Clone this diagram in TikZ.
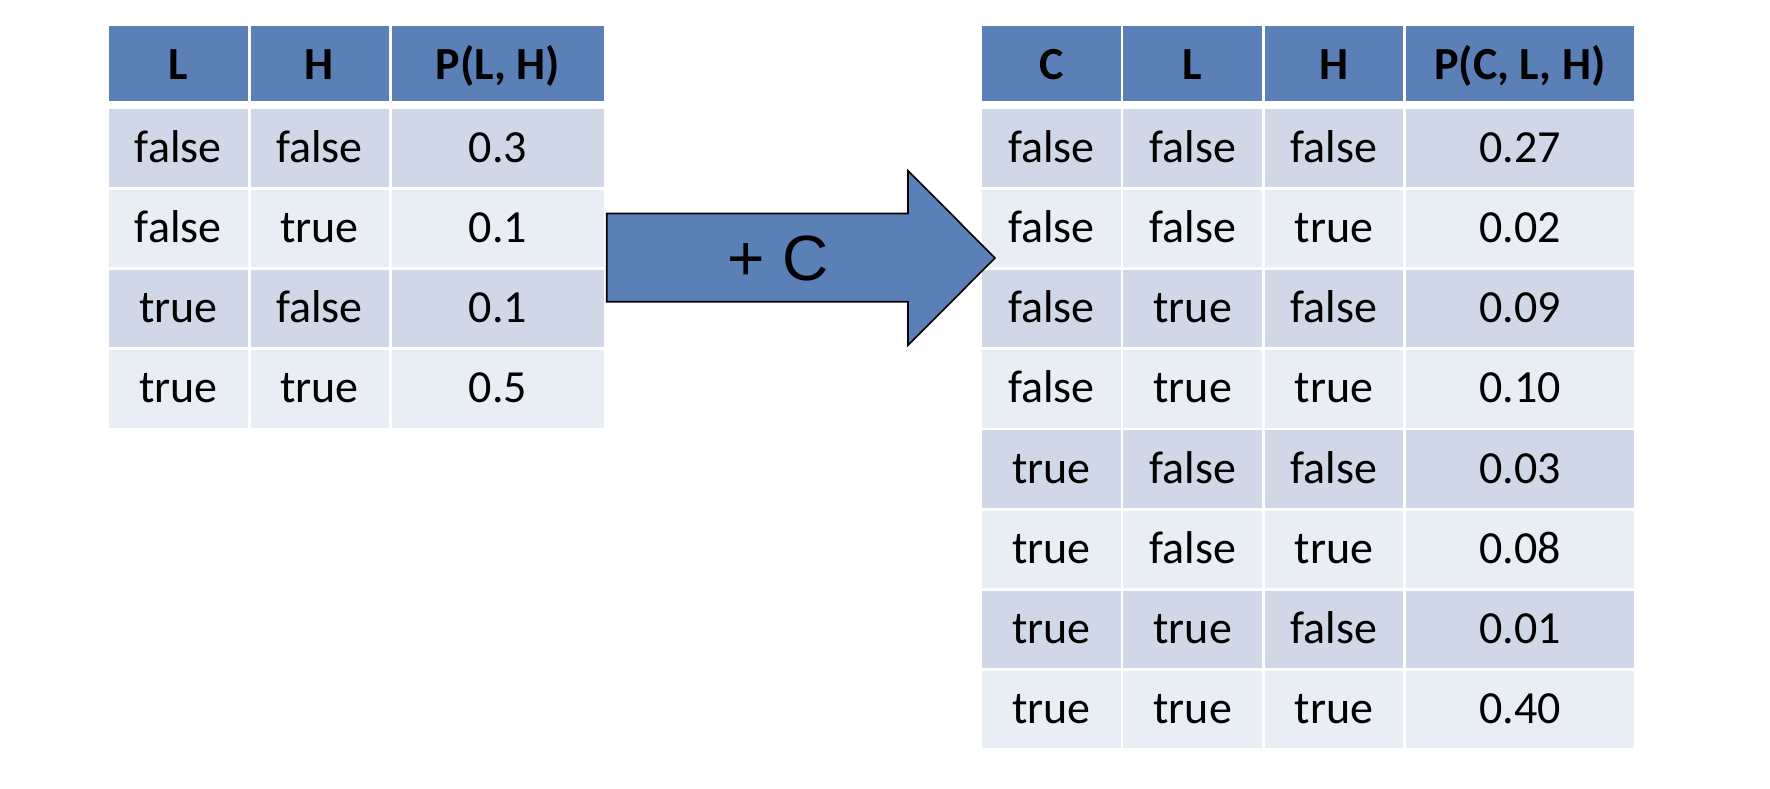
\documentclass[tikz,border=0pt]{standalone}
\usepackage{fontspec}
\setmainfont{Carlito}
\newfontfamily\arialfont{Liberation Sans}
\definecolor{hdrblue}{RGB}{91,127,183}
\definecolor{rowdark}{HTML}{D0D8E8}
\definecolor{rowlight}{HTML}{E9EDF4}
\tikzset{
  cellbase/.style={draw=none, inner sep=0pt, outer sep=0pt, anchor=north west,
    text=black, font=\fontsize{46}{55}\selectfont},
  hdrcell/.style={cellbase, fill=hdrblue, minimum height=75pt,
    text height=36pt, text depth=4.4pt, font=\fontsize{46}{55}\selectfont\bfseries},
  oddcell/.style={cellbase, fill=rowdark, minimum height=77.5pt,
    text height=35pt, text depth=7pt},
  evencell/.style={cellbase, fill=rowlight, minimum height=77.5pt,
    text height=35pt, text depth=7pt},
  bigarrow/.style={draw=black, line width=1.6pt, fill=hdrblue, line join=miter},
  arrowtext/.style={inner sep=0pt, font=\arialfont\fontsize{64}{70}\selectfont, text=black}
}
\begin{document}
\begin{tikzpicture}[x=1pt,y=-1pt]
\useasboundingbox[fill=white] (0,0) rectangle (1770,788);

% ---------- left table ----------
\node[hdrcell, minimum width=138.5pt] (Lh-1) at (109,26) {L};
\node[hdrcell, minimum width=138pt]   (Lh-2) at (250.5,26) {H};
\node[hdrcell, minimum width=212.8pt] (Lh-3) at (391.5,26) {P(L, H)};
\foreach \r/\ta/\tb/\tc in {1/false/false/0.3, 2/false/true/0.1, 3/true/false/0.1, 4/true/true/0.5}{
  \pgfmathsetmacro\yt{109.3+(\r-1)*80.24}
  \ifodd\r \def\rs{oddcell}\else\def\rs{evencell}\fi
  \node[\rs, minimum width=138.5pt] (L\r-1) at (109,\yt) {\ta};
  \node[\rs, minimum width=138pt]   (L\r-2) at (250.5,\yt) {\tb};
  \node[\rs, minimum width=212.8pt] (L\r-3) at (391.5,\yt) {\tc};
}

% ---------- right table ----------
\node[hdrcell, minimum width=138.7pt] (Rh-1) at (982,26) {C};
\node[hdrcell, minimum width=138.7pt] (Rh-2) at (1123.3,26) {L};
\node[hdrcell, minimum width=138pt]   (Rh-3) at (1265,26) {H};
\node[hdrcell, minimum width=228pt]   (Rh-4) at (1406,26) {P(C, L, H)};
\foreach \r/\ta/\tb/\tc/\td in {
  1/false/false/false/0.27, 2/false/false/true/0.02,
  3/false/true/false/0.09,  4/false/true/true/0.10,
  5/true/false/false/0.03,  6/true/false/true/0.08,
  7/true/true/false/0.01,   8/true/true/true/0.40}{
  \pgfmathsetmacro\yt{109.3+(\r-1)*80.24}
  \ifodd\r \def\rs{oddcell}\else\def\rs{evencell}\fi
  \node[\rs, minimum width=138.7pt] (R\r-1) at (982,\yt) {\ta};
  \node[\rs, minimum width=138.7pt] (R\r-2) at (1123.3,\yt) {\tb};
  \node[\rs, minimum width=138pt]   (R\r-3) at (1265,\yt) {\tc};
  \node[\rs, minimum width=228pt]   (R\r-4) at (1406,\yt) {\td};
}

% ---------- block arrow ----------
\coordinate (a1) at (606.7,213.5);
\coordinate (a2) at (908,213.5);
\coordinate (a3) at (908,170.7);
\coordinate (tip) at (995,258);
\coordinate (a5) at (908,345.3);
\coordinate (a6) at (908,301.7);
\coordinate (a7) at (606.7,301.7);
\draw[bigarrow] (a1) -- (a2) -- (a3) -- (tip) -- (a5) -- (a6) -- (a7) -- cycle;
\node[arrowtext] (plusc) at (778,258) {+ C};
\end{tikzpicture}
\end{document}
